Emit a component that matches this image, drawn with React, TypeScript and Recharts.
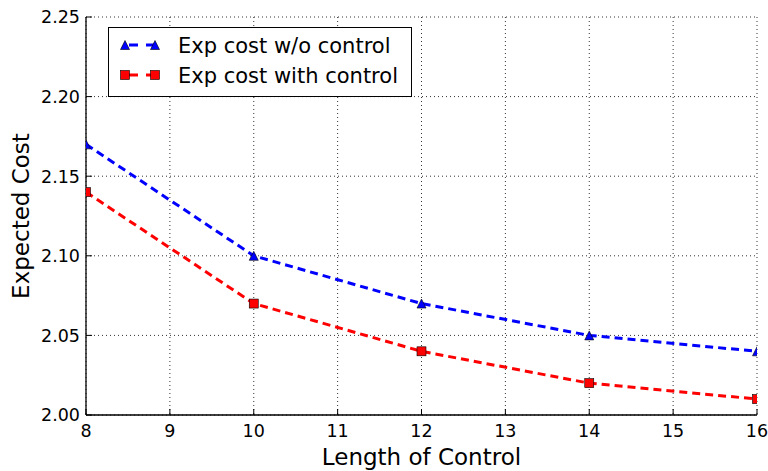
import { LineChart, Line, XAxis, YAxis, CartesianGrid, Legend } from 'recharts';

const lengths = [8, 10, 12, 14, 16];
const costWithout = [2.17, 2.1, 2.07, 2.05, 2.04];
const costWith = [2.14, 2.07, 2.04, 2.02, 2.01];
const xTicks = [8, 9, 10, 11, 12, 13, 14, 15, 16];
const yTicks = [2.0, 2.05, 2.1, 2.15, 2.2, 2.25];

const data = lengths.map((len, i) => ({ len, without: costWithout[i], with: costWith[i] }));

const FONT = '"DejaVu Sans", sans-serif';
const BLUE = '#0000ff';
const RED = '#ff0000';
const DASH = '8 5';
const TICK_LEN = 6;

function Tri({ cx, cy, s = 9 }: { cx: number; cy: number; s?: number }) {
    const h = s / 2;
    return (
        <path
            d={`M${cx},${cy - h} L${cx + h},${cy + h} L${cx - h},${cy + h} Z`}
            fill={BLUE}
            stroke="#000"
            strokeWidth={0.6}
        />
    );
}

function Sq({ cx, cy, s = 9 }: { cx: number; cy: number; s?: number }) {
    return <rect x={cx - s / 2} y={cy - s / 2} width={s} height={s} fill={RED} stroke="#000" strokeWidth={0.6} />;
}

const BottomTick = (p: any) => (
    <g>
        <line x1={p.x} x2={p.x} y1={p.y} y2={p.y - TICK_LEN} stroke="#000" strokeWidth={1} />
        <text x={p.x} y={p.y + 22} textAnchor="middle" fontSize={17.5} fontFamily={FONT} fill="#000">
            {p.payload.value}
        </text>
    </g>
);

const TopTick = (p: any) => (
    <line x1={p.x} x2={p.x} y1={p.y} y2={p.y + TICK_LEN} stroke="#000" strokeWidth={1} />
);

const LeftTick = (p: any) => (
    <g>
        <line x1={p.x} x2={p.x + TICK_LEN} y1={p.y} y2={p.y} stroke="#000" strokeWidth={1} />
        <text x={p.x - 6} y={p.y} dy="0.36em" textAnchor="end" fontSize={17.5} fontFamily={FONT} fill="#000">
            {Number(p.payload.value).toFixed(2)}
        </text>
    </g>
);

const RightTick = (p: any) => (
    <line x1={p.x} x2={p.x - TICK_LEN} y1={p.y} y2={p.y} stroke="#000" strokeWidth={1} />
);

function LegendBox() {
    const rows = [
        { label: 'Exp cost w/o control', color: BLUE, Marker: Tri, y: 18 },
        { label: 'Exp cost with control', color: RED, Marker: Sq, y: 48 },
    ];
    return (
        <svg width={305} height={71} style={{ display: 'block' }}>
            <rect x={0.5} y={0.5} width={303} height={69} fill="#fff" stroke="#000" strokeWidth={1} />
            {rows.map(({ label, color, Marker, y }) => (
                <g key={label}>
                    <line x1={17} x2={47} y1={y} y2={y} stroke={color} strokeWidth={3} strokeDasharray="9 8" strokeDashoffset={-4} />
                    <Marker cx={17} cy={y} />
                    <Marker cx={47} cy={y} />
                    <text x={70} y={y} dy="0.36em" fontSize={21} fontFamily={FONT} fill="#000">
                        {label}
                    </text>
                </g>
            ))}
        </svg>
    );
}

export default function App() {
    return (
        <div style={{ position: 'absolute', left: 0, top: 0, width: 768, height: 471, background: '#fff', fontFamily: FONT }}>
            <LineChart width={768} height={471} data={data} margin={{ top: 17, right: 11, left: 0, bottom: 0 }}>
                <CartesianGrid stroke="#333" strokeWidth={1} strokeDasharray="1 3" />
                <XAxis
                    dataKey="len"
                    type="number"
                    domain={[8, 16]}
                    ticks={xTicks}
                    allowDataOverflow
                    height={56}
                    tickSize={0}
                    tickMargin={0}
                    tickLine={false}
                    axisLine={{ stroke: '#000', strokeWidth: 1.3 }}
                    tick={BottomTick}
                    interval={0}
                    label={({ viewBox }: any) => (
                        <text x={viewBox.x + viewBox.width / 2} y={viewBox.y + 50} textAnchor="middle" fontSize={23} fontFamily={FONT} fill="#000">
                            Length of Control
                        </text>
                    )}
                />
                <XAxis
                    xAxisId="top"
                    orientation="top"
                    dataKey="len"
                    type="number"
                    domain={[8, 16]}
                    ticks={xTicks}
                    allowDataOverflow
                    height={0}
                    tickSize={0}
                    tickMargin={0}
                    tickLine={false}
                    axisLine={{ stroke: '#000', strokeWidth: 1.3 }}
                    tick={TopTick}
                    interval={0}
                />
                <YAxis
                    type="number"
                    domain={[2.0, 2.25]}
                    ticks={yTicks}
                    allowDataOverflow
                    width={86}
                    tickSize={0}
                    tickMargin={0}
                    tickLine={false}
                    axisLine={{ stroke: '#000', strokeWidth: 1.3 }}
                    tick={LeftTick}
                    interval={0}
                    label={({ viewBox }: any) => {
                        const cx = viewBox.x + 29;
                        const cy = viewBox.y + viewBox.height / 2;
                        return (
                            <text x={cx} y={cy} textAnchor="middle" transform={`rotate(-90, ${cx}, ${cy})`} fontSize={23} fontFamily={FONT} fill="#000">
                                Expected Cost
                            </text>
                        );
                    }}
                />
                <YAxis
                    yAxisId="right"
                    orientation="right"
                    type="number"
                    domain={[2.0, 2.25]}
                    ticks={yTicks}
                    allowDataOverflow
                    width={0}
                    tickSize={0}
                    tickMargin={0}
                    tickLine={false}
                    axisLine={{ stroke: '#000', strokeWidth: 1.3 }}
                    tick={RightTick}
                    interval={0}
                />
                <Legend
                    layout="vertical"
                    align="center"
                    verticalAlign="middle"
                    content={() => <LegendBox />}
                    wrapperStyle={{ top: 27, left: 108, right: 'auto', bottom: 'auto', width: 305, height: 71 }}
                />
                <Line
                    dataKey="without"
                    stroke={BLUE}
                    strokeWidth={3}
                    strokeDasharray={DASH}
                    isAnimationActive={false}
                    dot={(p: any) => <Tri key={`t${p.index}`} cx={p.cx} cy={p.cy} />}
                    activeDot={false}
                />
                <Line
                    dataKey="with"
                    stroke={RED}
                    strokeWidth={3}
                    strokeDasharray={DASH}
                    isAnimationActive={false}
                    dot={(p: any) => <Sq key={`s${p.index}`} cx={p.cx} cy={p.cy} />}
                    activeDot={false}
                />
            </LineChart>
        </div>
    );
}
